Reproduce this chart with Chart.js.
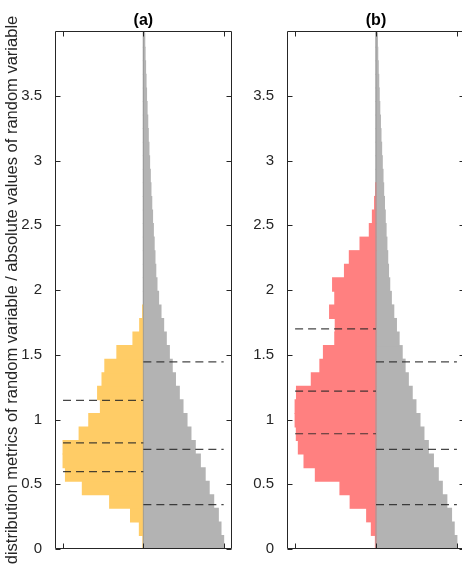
<!DOCTYPE html>
<html>
<head>
<meta charset="utf-8">
<script src="https://cdn.jsdelivr.net/npm/chart.js@4.4.1/dist/chart.umd.min.js"></script>
<style>
  html, body { margin: 0; padding: 0; overflow: hidden; background: #fff; }
  .panel { position: absolute; top: 0; width: 240px; height: 569px; }
</style>
</head>
<body>
<div class="panel" style="left:0px"><canvas id="chartA"></canvas></div>
<div class="panel" style="left:232px"><canvas id="chartB"></canvas></div>
<script>
// histogram bins (centres, bin width about 0.105)
const binCenters = [0.0524, 0.1571, 0.2618, 0.3665, 0.4712, 0.5760, 0.6807, 0.7854, 0.8901, 0.9948,
  1.0996, 1.2043, 1.3090, 1.4137, 1.5184, 1.6232, 1.7279, 1.8326, 1.9373, 2.0420,
  2.1468, 2.2515, 2.3562, 2.4609, 2.5656, 2.6704, 2.7751, 2.8798, 2.9845, 3.0892,
  3.1940, 3.2987, 3.4034, 3.5081, 3.6128, 3.7176, 3.8223, 3.9270, 4.0317];

// absolute values (grey, right half) - same in both panels
const absValues = [1.0, 0.967, 0.934, 0.876, 0.82, 0.77, 0.71, 0.647, 0.593, 0.544,
  0.494, 0.448, 0.40, 0.36, 0.324, 0.286, 0.253, 0.22, 0.19, 0.17,
  0.155, 0.145, 0.135, 0.125, 0.115, 0.105, 0.095, 0.087, 0.078, 0.07,
  0.062, 0.055, 0.047, 0.04, 0.034, 0.028, 0.022, 0.018, 0.015];

// distribution metrics (left half)
const metricsA = [0.006, 0.05, 0.16, 0.42, 0.76, 0.97, 1.0, 1.0, 0.80, 0.68,
  0.535, 0.57, 0.515, 0.48, 0.33, 0.13, 0.046, 0.01];
const metricsB = [0.008, 0.058, 0.116, 0.32, 0.446, 0.75, 0.89, 0.96, 0.985, 1.0,
  1.0, 0.983, 0.80, 0.694, 0.65, 0.51, 0.504, 0.574, 0.51, 0.537,
  0.39, 0.33, 0.198, 0.083, 0.045, 0.018, 0.005];

// dashed reference levels
const levelsLeftA = [1.147, 0.82, 0.597];
const levelsLeftB = [1.70, 1.219, 0.89];
const levelsRight = [1.445, 0.769, 0.342];

const yTicks = [0, 0.5, 1, 1.5, 2, 2.5, 3, 3.5];
const xTicks = [-1, 0, 1];

const FONT = '"Liberation Sans", Arial, Helvetica, sans-serif';
const AXIS_COLOR = '#262626';

// box + inward ticks, matlab style
const frameTicks = {
  id: 'frameTicks',
  afterDraw(chart) {
    const { ctx, chartArea: a, scales } = chart;
    const L = Math.round(a.left) + 0.5, R = Math.round(a.right) - 0.5;
    const T = Math.round(a.top) + 0.5, B = Math.round(a.bottom) - 0.5;
    ctx.save();
    ctx.strokeStyle = AXIS_COLOR;
    ctx.lineWidth = 1;
    ctx.beginPath();
    ctx.rect(L, T, R - L, B - T);
    yTicks.forEach(v => {
      const py = Math.round(scales.y.getPixelForValue(v)) + 0.5;
      ctx.moveTo(L, py); ctx.lineTo(L + 5, py);
      ctx.moveTo(R, py); ctx.lineTo(R - 5, py);
    });
    xTicks.forEach(v => {
      const px = Math.round(scales.x.getPixelForValue(v)) + 0.5;
      ctx.moveTo(px, B); ctx.lineTo(px, B - 5);
      ctx.moveTo(px, T); ctx.lineTo(px, T + 5);
    });
    ctx.stroke();
    ctx.restore();
  }
};

function dashed(levels, x0, x1) {
  return levels.map(v => ({
    type: 'line',
    data: [{ x: x0, y: v }, { x: x1, y: v }],
    borderColor: 'rgba(38,38,38,0.85)',
    borderWidth: 1.2,
    borderDash: [8, 5],
    pointRadius: 0,
    order: 0
  }));
}

function makeChart(id, title, leftVals, leftColor, levelsLeft, yLabel, padRight) {
  const datasets = [
    {
      data: leftVals.map((w, i) => ({ y: binCenters[i], x: -w })),
      backgroundColor: leftColor,
      order: 2
    },
    {
      data: absValues.map((w, i) => ({ y: binCenters[i], x: w })),
      backgroundColor: '#b3b3b3',
      order: 2
    },
    {
      type: 'line',
      data: [{ x: 0, y: 0 }, { x: 0, y: 4 }],
      borderColor: '#9a9a9a',
      borderWidth: 1,
      pointRadius: 0,
      order: 1
    },
    ...dashed(levelsLeft, -1, 0),
    ...dashed(levelsRight, 0, 1)
  ];

  return new Chart(document.getElementById(id), {
    type: 'bar',
    data: { datasets },
    plugins: [frameTicks],
    options: {
      indexAxis: 'y',
      responsive: true,
      maintainAspectRatio: false,
      animation: false,
      datasets: {
        bar: { grouped: false, barPercentage: 1, categoryPercentage: 1, borderWidth: 0, inflateAmount: 0.5 }
      },
      layout: { padding: { left: 0, top: 0, right: padRight, bottom: 20 } },
      plugins: {
        legend: { display: false },
        tooltip: { enabled: false },
        title: {
          display: true,
          text: title,
          fullSize: false,
          color: '#000',
          font: { family: FONT, size: 16, weight: 'bold' },
          padding: { top: 11, bottom: 0.8 }
        }
      },
      scales: {
        x: { type: 'linear', display: false, min: -1.1, max: 1.1 },
        y: {
          type: 'linear',
          offset: false,
          min: 0,
          max: 4,
          grid: { display: false },
          border: { display: false },
          afterBuildTicks: s => { s.ticks = yTicks.map(v => ({ value: v })); },
          afterFit: s => { s.width = 55; },
          ticks: {
            padding: 5,
            color: AXIS_COLOR,
            font: { family: FONT, size: 15 },
            callback: v => String(v)
          },
          title: {
            display: !!yLabel,
            text: yLabel,
            color: AXIS_COLOR,
            font: { family: FONT, size: 16.5 },
            padding: { top: 3, bottom: 0 }
          }
        }
      }
    }
  });
}

makeChart('chartA', '(a)', metricsA, '#ffcc66', levelsLeftA,
  'distribution metrics of random variable / absolute values of random variable', 8.3);
makeChart('chartB', '(b)', metricsB, '#ff8080', levelsLeftB, '', 7);
</script>
</body>
</html>
